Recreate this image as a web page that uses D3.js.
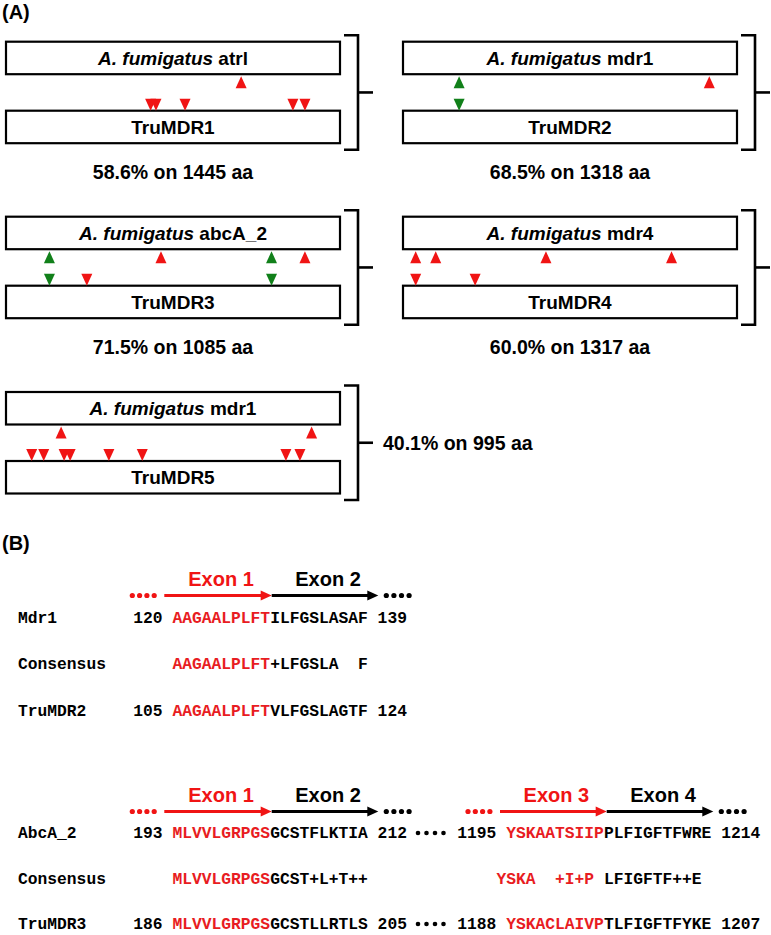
<!DOCTYPE html>
<html>
<head>
<meta charset="utf-8">
<script src="https://cdn.jsdelivr.net/npm/d3@7"></script>
<style>
  body { margin: 0; background: #fff; }
  text { font-family: "Liberation Sans", Arial, sans-serif; }
  .seq { font-family: "Liberation Mono", "Courier New", monospace; font-weight: bold; white-space: pre; }
</style>
</head>
<body>
<div id="fig"></div>
<script>

// ---- panel A data ----
var refGenes = ["atrl", "mdr1", "abcA_2", "mdr4", "mdr1"]
var truNames = ["TruMDR1", "TruMDR2", "TruMDR3", "TruMDR4", "TruMDR5"]
var identity = ["58.6%", "68.5%", "71.5%", "60.0%", "40.1%"]
var alnLength = [1445, 1318, 1085, 1317, 995]
// intron positions, % along the aligned protein
var redUp = [[70.4], [91.7], [46.4, 89.5], [3.8, 9.8, 42.8, 80.4], [16.5, 91.5]]
var redDown = [[43.3, 44.9, 53.6, 85.9, 89.5], [], [24.2], [3.8, 21.6],
  [7.7, 11.3, 17.4, 19.2, 30.8, 40.8, 83.8, 88.0]]
var greenShared = [[], [16.8], [13.0, 79.5], [], []]

// ---- panel B data ----
var names1 = ["Mdr1", "Consensus", "TruMDR2"]
var start1 = ["120", "", "105"]
var end1 = ["139", "", "124"]
var exon1 = ["AAGAALPLFT", "AAGAALPLFT", "AAGAALPLFT"]
var exon2 = ["ILFGSLASAF", "+LFGSLA  F", "VLFGSLAGTF"]

var names2 = ["AbcA_2", "Consensus", "TruMDR3"]
var start2 = ["193", "", "186"]
var end2 = ["212", "", "205"]
var exonA = ["MLVVLGRPGS", "MLVVLGRPGS", "MLVVLGRPGS"]
var exonB = ["GCSTFLKTIA", "GCST+L+T++", "GCSTLLRTLS"]
var start3 = ["1195", "", "1188"]
var end3 = ["1214", "", "1207"]
var exonC = ["YSKAATSIIP", "YSKA  +I+P", "YSKACLAIVP"]
var exonD = ["PLFIGFTFWRE", " LFIGFTF++E", "TLFIGFTFYKE"]

var RED = "#f01414"
var SEQRED = "#e81c22"
var GREEN = "#11801a"

var width = 771
var height = 935

var svg = d3.select("#fig")
  .append("svg")
  .attr("width", width)
  .attr("height", height)

svg.append("rect").attr("width", width).attr("height", height).attr("fill", "#fff")

svg.append("text").attr("x", 2).attr("y", 19)
  .style("font-size", "20px").style("font-weight", "bold").text("(A)")
svg.append("text").attr("x", 2).attr("y", 550)
  .style("font-size", "20px").style("font-weight", "bold").text("(B)")

// ---- panel A ----
var colX = [6, 403]
var rowY = [41.7, 216.7, 392]
var boxW = 334, boxH = 32.5, gap = 69

truNames.forEach(function(name, i) {
  var bx = colX[i % 2]
  var by = rowY[Math.floor(i / 2)]
  var g = svg.append("g")
  var x = d3.scaleLinear().domain([0, 100]).range([bx, bx + boxW])

  // boxes
  g.selectAll("rect.box")
    .data([by, by + gap])
    .enter()
    .append("rect")
    .attr("class", "box")
    .attr("x", bx).attr("y", function(d) { return d })
    .attr("width", boxW).attr("height", boxH)
    .attr("fill", "#fff").attr("stroke", "#000").attr("stroke-width", 2.2)

  var t = g.append("text")
    .attr("x", bx + boxW / 2).attr("y", by + boxH / 2 + 6.8)
    .attr("text-anchor", "middle")
    .style("font-size", "19px").style("font-weight", "bold")
  t.append("tspan").style("font-style", "italic").text("A. fumigatus")
  t.append("tspan").text(" " + refGenes[i])

  g.append("text")
    .attr("x", bx + boxW / 2).attr("y", by + gap + boxH / 2 + 6.8)
    .attr("text-anchor", "middle")
    .style("font-size", "19px").style("font-weight", "bold")
    .text(name)

  // triangles
  var upTop = by + boxH + 2, downBot = by + gap
  function upTri(d) {
    return "M" + x(d) + "," + upTop + "L" + (x(d) + 5.5) + "," + (upTop + 12) + "L" + (x(d) - 5.5) + "," + (upTop + 12) + "Z"
  }
  function downTri(d) {
    return "M" + x(d) + "," + downBot + "L" + (x(d) + 5.5) + "," + (downBot - 12) + "L" + (x(d) - 5.5) + "," + (downBot - 12) + "Z"
  }
  g.selectAll("path.ru").data(redUp[i]).enter().append("path")
    .attr("d", upTri).attr("fill", RED)
  g.selectAll("path.rd").data(redDown[i]).enter().append("path")
    .attr("d", downTri).attr("fill", RED)
  g.selectAll("path.gu").data(greenShared[i]).enter().append("path")
    .attr("d", upTri).attr("fill", GREEN)
  g.selectAll("path.gd").data(greenShared[i]).enter().append("path")
    .attr("d", downTri).attr("fill", GREEN)

  // bracket
  var rx = bx + boxW
  var yt = by - 6.5, yb = by + gap + boxH + 6.5, yc = (yt + yb) / 2
  g.append("path")
    .attr("d", "M" + (rx + 4) + "," + yt + "H" + (rx + 18) + "V" + yb + "H" + (rx + 4))
    .attr("fill", "none").attr("stroke", "#000").attr("stroke-width", 2.6)
  g.append("path")
    .attr("d", "M" + (rx + 18) + "," + yc + "H" + (rx + 33))
    .attr("stroke", "#000").attr("stroke-width", 2.6)

  var lab = identity[i] + " on " + alnLength[i] + " aa"
  if (i == 4) {
    g.append("text").attr("x", rx + 43).attr("y", yc + 7)
      .style("font-size", "19.5px").style("font-weight", "bold").text(lab)
  } else {
    g.append("text").attr("x", bx + boxW / 2).attr("y", by + 137)
      .attr("text-anchor", "middle")
      .style("font-size", "19.5px").style("font-weight", "bold").text(lab)
  }
})

// ---- panel B ----
var cw = 9.78   // monospace advance at 16.3px

function exonArrow(y, a0, a1, a2, labels, leadColor) {
  var g = svg.append("g")
  var lead = d3.range(4).map(function(k) { return a0 - 32 + k * 7.3 })
  var trail = d3.range(4).map(function(k) { return a2 + 8 + k * 7.6 })
  g.selectAll("circle.lead").data(lead).enter().append("circle")
    .attr("cx", function(d) { return d }).attr("cy", y).attr("r", 2.6).attr("fill", leadColor)
  g.selectAll("circle.trail").data(trail).enter().append("circle")
    .attr("cx", function(d) { return d }).attr("cy", y).attr("r", 2.6).attr("fill", "#000")
  var segs = [[a0, a1, RED], [a1, a2, "#000"]]
  segs.forEach(function(s, k) {
    g.append("line").attr("x1", s[0]).attr("x2", s[1] - 8).attr("y1", y).attr("y2", y)
      .attr("stroke", s[2]).attr("stroke-width", 3)
    g.append("path")
      .attr("d", "M" + s[1] + "," + y + "L" + (s[1] - 11) + "," + (y - 5) + "L" + (s[1] - 11) + "," + (y + 5) + "Z")
      .attr("fill", s[2])
    g.append("text").attr("x", (s[0] + s[1]) / 2 + 3).attr("y", y - 9.5)
      .attr("text-anchor", "middle")
      .style("font-size", "20px").style("font-weight", "bold").attr("fill", s[2])
      .text(labels[k])
  })
}

function seqRows(y0, step, x0, starts, segA, segB, ends) {
  starts.forEach(function(s, i) {
    var y = y0 + i * step
    var t = svg.append("text").attr("class", "seq").attr("x", x0).attr("y", y)
      .attr("xml:space", "preserve")
      .style("font-size", "16.3px")
    t.append("tspan").attr("fill", "#000").text(s ? s + " " : "    ")
    t.append("tspan").attr("x", x0 + (s.length ? s.length + 1 : 4) * cw).attr("fill", SEQRED).text(segA[i])
    t.append("tspan").attr("fill", "#000").text(segB[i])
    if (ends[i]) t.append("tspan").attr("fill", "#000").text(" " + ends[i])
  })
}

function nameCol(y0, step, names) {
  names.forEach(function(n, i) {
    svg.append("text").attr("class", "seq").attr("x", 18).attr("y", y0 + i * step)
      .style("font-size", "16.3px").text(n)
  })
}

// block 1
exonArrow(595.5, 164.3, 271.7, 378.3, ["Exon 1", "Exon 2"], RED)
nameCol(622.7, 46.4, names1)
seqRows(622.7, 46.4, 133.3, start1, exon1, exon2, end1)

// block 2
var y2 = 838, step2 = 45.5
exonArrow(811.5, 164.3, 271.7, 378.3, ["Exon 1", "Exon 2"], RED)
exonArrow(811.5, 500, 606.7, 713.3, ["Exon 3", "Exon 4"], RED)
nameCol(y2, step2, names2)
seqRows(y2, step2, 133.3, start2, exonA, exonB, end2)
seqRows(y2, step2, 457.3, start3, exonC, exonD, end3)

// dots between the two alignment segments
;[0, 2].forEach(function(i) {
  var y = y2 + i * step2 - 5
  svg.selectAll(null).data(d3.range(4)).enter().append("circle")
    .attr("cx", function(k) { return 418 + k * 8.5 }).attr("cy", y).attr("r", 2.3).attr("fill", "#000")
})

</script>
</body>
</html>
